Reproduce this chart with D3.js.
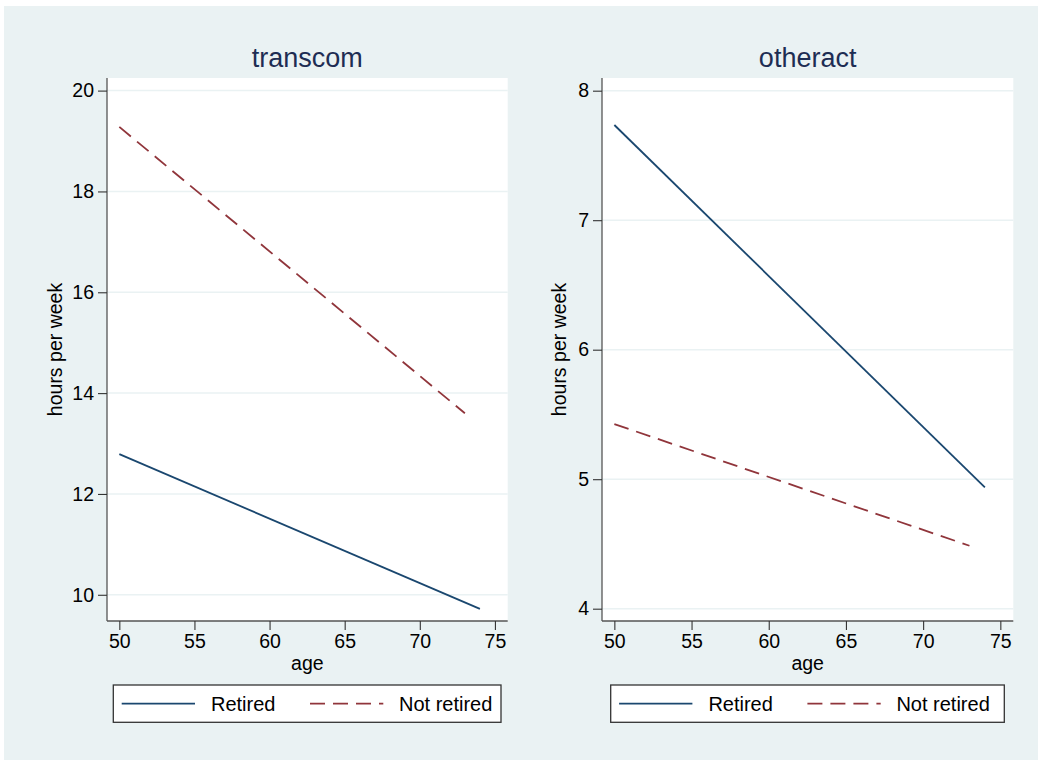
<!DOCTYPE html>
<html>
<head>
<meta charset="utf-8">
<script src="https://cdn.jsdelivr.net/npm/d3@7/dist/d3.min.js"></script>
<style>
  html, body { margin: 0; padding: 0; background: #ffffff; }
  svg { display: block; }
  text { font-family: Arial, "Liberation Sans", Helvetica, sans-serif; }
</style>
</head>
<body>
<svg id="chart" width="1039" height="760"></svg>
<script>
// ---- Data ----
const panelTitles = ["transcom", "otheract"];
const seriesNames = ["Retired", "Not retired"];
const seriesColors = ["#1a476f", "#90353b"];
// endpoints [age, hours] of fitted lines
const transcomRetired    = [[50, 12.79], [74, 9.72]];
const transcomNotRetired = [[50, 19.28], [73, 13.60]];
const otheractRetired    = [[50, 7.735], [74, 4.937]];
const otheractNotRetired = [[50, 5.426], [73, 4.486]];
const xTicks = [50, 55, 60, 65, 70, 75];
const transcomYTicks = [10, 12, 14, 16, 18, 20];
const otheractYTicks = [4, 5, 6, 7, 8];
const xLabel = "age";
const yLabel = "hours per week";

// ---- Layout ----
const svg = d3.select("#chart");
const bg = "#eaf2f3";
svg.append("rect").attr("x", 4).attr("y", 6).attr("width", 1034).attr("height", 754).attr("fill", bg);

const panels = [
  { title: panelTitles[0], series: [transcomRetired, transcomNotRetired], yTicks: transcomYTicks,
    x0: 107, x1: 507.7, y0: 78, y1: 621, xDom: [49.18, 75.85], yDom: [9.48, 20.25],
    yTitleX: 55, legend: [113.3, 685, 387.7, 37.3] },
  { title: panelTitles[1], series: [otheractRetired, otheractNotRetired], yTicks: otheractYTicks,
    x0: 602, x1: 1013.3, y0: 78, y1: 621, xDom: [49.2, 75.84], yDom: [3.905, 8.098],
    yTitleX: 559, legend: [610.7, 685, 393.6, 37.3] }
];

const dashes = [null, "15,8"];
const fs = 19.5;

panels.forEach(p => {
  const g = svg.append("g");
  const x = d3.scaleLinear().domain(p.xDom).range([p.x0, p.x1]);
  const y = d3.scaleLinear().domain(p.yDom).range([p.y1, p.y0]);

  // plot region
  g.append("rect").attr("x", p.x0).attr("y", p.y0).attr("width", p.x1 - p.x0).attr("height", p.y1 - p.y0).attr("fill", "#ffffff");

  // gridlines
  g.selectAll("line.grid").data(p.yTicks).enter().append("line")
    .attr("x1", p.x0).attr("x2", p.x1)
    .attr("y1", d => y(d)).attr("y2", d => y(d))
    .attr("stroke", bg).attr("stroke-width", 1.5);

  // y axis
  const yAxis = d3.axisLeft(y).tickValues(p.yTicks).tickSize(9).tickPadding(4).tickFormat(d3.format("d"));
  const ya = g.append("g").attr("transform", `translate(${p.x0},0)`).call(yAxis);
  ya.select(".domain").attr("d", `M0,${p.y0}V${p.y1}`).attr("stroke", "#555").attr("stroke-width", 1.3);
  ya.selectAll(".tick line").attr("stroke", "#333").attr("stroke-width", 1.1);
  ya.selectAll(".tick text").attr("font-size", fs).attr("fill", "#000").style("font-family", "Arial, 'Liberation Sans', sans-serif");

  // x axis
  const xAxis = d3.axisBottom(x).tickValues(xTicks).tickSize(9).tickPadding(4).tickFormat(d3.format("d"));
  const xa = g.append("g").attr("transform", `translate(0,${p.y1})`).call(xAxis);
  xa.select(".domain").attr("d", `M${p.x0},0H${p.x1}`).attr("stroke", "#555").attr("stroke-width", 1.3);
  xa.selectAll(".tick line").attr("stroke", "#333").attr("stroke-width", 1.1);
  xa.selectAll(".tick text").attr("font-size", fs).attr("fill", "#000").style("font-family", "Arial, 'Liberation Sans', sans-serif");

  // lines
  const line = d3.line().x(d => x(d[0])).y(d => y(d[1]));
  p.series.forEach((s, i) => {
    g.append("path").datum(s).attr("d", line).attr("fill", "none")
      .attr("stroke", seriesColors[i]).attr("stroke-width", 1.8)
      .attr("stroke-dasharray", dashes[i]);
  });

  // title
  g.append("text").attr("x", (p.x0 + p.x1) / 2).attr("y", 66.5).attr("text-anchor", "middle")
    .attr("font-size", 27).attr("fill", "#1e2d53").text(p.title);

  // axis titles
  g.append("text").attr("x", (p.x0 + p.x1) / 2).attr("y", 669.5).attr("text-anchor", "middle")
    .attr("font-size", fs).attr("fill", "#000").text(xLabel);
  g.append("text").attr("transform", `translate(${p.yTitleX + 7},${(p.y0 + p.y1) / 2}) rotate(-90)`)
    .attr("text-anchor", "middle").attr("font-size", fs).attr("fill", "#000").text(yLabel);

  // legend
  const [lx, ly, lw, lh] = p.legend;
  const lg = g.append("g").attr("transform", `translate(${lx},${ly})`);
  lg.append("rect").attr("width", lw).attr("height", lh).attr("fill", "#ffffff").attr("stroke", "#333").attr("stroke-width", 1.3);
  const items = [
    { sx: 8.4, ex: 81.7, tx: 97.7 },
    { sx: 196.7, ex: 270, tx: 285.7 }
  ];
  items.forEach((it, i) => {
    lg.append("line").attr("x1", it.sx).attr("x2", it.ex).attr("y1", lh / 2).attr("y2", lh / 2)
      .attr("stroke", seriesColors[i]).attr("stroke-width", 1.8).attr("stroke-dasharray", dashes[i]);
    lg.append("text").attr("x", it.tx).attr("y", lh / 2 + 7).attr("font-size", 20).attr("fill", "#000").text(seriesNames[i]);
  });
});
</script>
</body>
</html>
